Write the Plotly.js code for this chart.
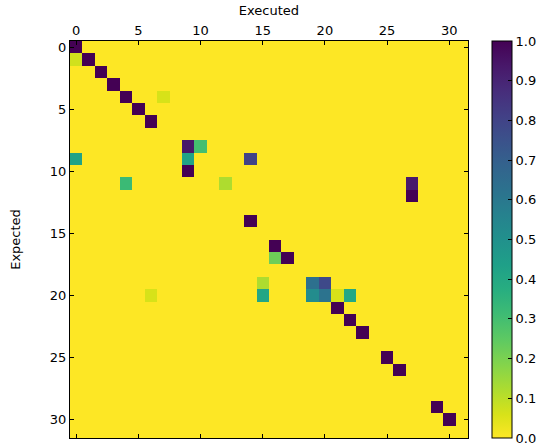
<!DOCTYPE html>
<html>
<head>
<meta charset="utf-8">
<script src="https://cdn.plot.ly/plotly-3.0.1.min.js"></script>
<style>html,body{margin:0;padding:0;background:#fff;}#chart{width:541px;height:443px;}</style>
</head>
<body>
<div id="chart"></div>
<script>
// Matrix size (Expected rows x Executed columns)
const nRows = 32;
const nCols = 32;
// Non-zero cells: expected (row), executed (column), value
const expectedIdx = [0, 1, 1, 2, 3, 4, 4, 5, 6, 8, 8, 9, 9, 9, 10, 11, 11, 11, 12, 14, 16, 17, 17, 19, 19, 19, 20, 20, 20, 20, 20, 20, 21, 22, 23, 25, 26, 29, 30];
const executedIdx = [0, 0, 1, 2, 3, 4, 7, 5, 6, 9, 10, 0, 9, 14, 9, 4, 12, 27, 27, 14, 16, 16, 17, 15, 19, 20, 6, 15, 19, 20, 21, 22, 21, 22, 23, 25, 26, 29, 30];
const cellValues  = [1.0, 0.07, 1.0, 1.0, 1.0, 1.0, 0.06, 1.0, 1.0, 0.94, 0.3, 0.42, 0.42, 0.8, 1.0, 0.32, 0.12, 0.93, 1.0, 1.0, 1.0, 0.22, 1.0, 0.12, 0.63, 0.78, 0.06, 0.41, 0.52, 0.62, 0.06, 0.4, 1.0, 1.0, 1.0, 1.0, 1.0, 1.0, 1.0];
const tickVals = [0, 5, 10, 15, 20, 25, 30];
const cbTicks = [0.0, 0.1, 0.2, 0.3, 0.4, 0.5, 0.6, 0.7, 0.8, 0.9, 1.0];
const cbTickText = cbTicks.map(v => v.toFixed(1));

const z = [];
for (let r = 0; r < nRows; r++) { z.push(new Array(nCols).fill(0)); }
for (let i = 0; i < cellValues.length; i++) { z[expectedIdx[i]][executedIdx[i]] = cellValues[i]; }
const xs = Array.from({length: nCols}, (_, i) => i);
const ys = Array.from({length: nRows}, (_, i) => i);

const font = {family: 'DejaVu Sans, sans-serif', size: 13, color: '#000'};
const trace = {
  type: 'heatmap', z: z, x: xs, y: ys, zmin: 0, zmax: 1,
  colorscale: 'Viridis', reversescale: true, xgap: 0, ygap: 0,
  colorbar: {
    x: 0.903, xanchor: 'left', xpad: 0, ypad: 0, y: 0.5, yanchor: 'middle',
    len: 1, lenmode: 'fraction', thickness: 20, thicknessmode: 'pixels',
    outlinewidth: 1, outlinecolor: '#000',
    tickvals: cbTicks, ticktext: cbTickText, ticks: 'inside', ticklen: 4, tickcolor: '#000',
    tickfont: font, ticklabeloverflow: 'allow'
  },
  hoverinfo: 'x+y+z'
};
const layout = {
  width: 541, height: 443,
  margin: {l: 70, r: 0, t: 41, b: 5},
  paper_bgcolor: '#fff', plot_bgcolor: '#fff',
  font: font,
  xaxis: {
    domain: [0, 0.852],
    side: 'top', range: [-0.5, 31.5], tickvals: tickVals, ticks: 'inside', ticklen: 4,
    tickcolor: '#000', showline: true, linecolor: '#000', linewidth: 1, mirror: 'ticks',
    showgrid: false, zeroline: false, tickfont: font,
    title: {text: 'Executed', font: font, standoff: 4}
  },
  yaxis: {
    range: [31.5, -0.5], tickvals: tickVals, ticks: 'inside', ticklen: 4,
    tickcolor: '#000', showline: true, linecolor: '#000', linewidth: 1, mirror: 'ticks',
    showgrid: false, zeroline: false, tickfont: font,
    title: {text: 'Expected', font: font, standoff: 26}
  }
};
Plotly.newPlot('chart', [trace], layout, {displayModeBar: false, staticPlot: true});
</script>
</body>
</html>
